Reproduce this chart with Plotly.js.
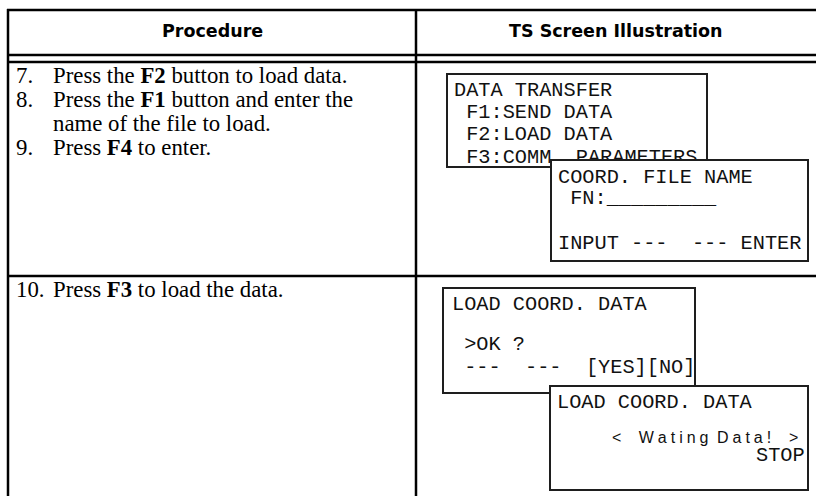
<!DOCTYPE html>
<html>
<head>
<meta charset="utf-8">
<script src="https://cdn.plot.ly/plotly-3.0.1.min.js"></script>
<style>html,body{margin:0;padding:0;background:#fff;}#chart{width:816px;height:496px;}</style>
</head>
<body>
<div id="chart"></div>
<script>
// ---- content (text of the table) ----
const headers = ["Procedure", "TS Screen Illustration"];
const stepNumbers = ["7.", "8.", "9.", "10."];
const stepLines = [
  ["Press the <b>F2</b> button to load data."],
  ["Press the <b>F1</b> button and enter the", "name of the file to load."],
  ["Press <b>F4</b> to enter."],
  ["Press <b>F3</b> to load the data."]
];
const screenTransfer = ["DATA TRANSFER", " F1:SEND DATA", " F2:LOAD DATA", " F3:COMM. PARAMETERS"];
const screenFileName = ["COORD. FILE NAME", " FN:_________", "INPUT ---  --- ENTER"];
const screenConfirm  = ["LOAD COORD. DATA", " >OK ?", " ---  ---  [YES][NO]"];
const screenWaiting  = ["LOAD COORD. DATA", "< Wating Data! >", "STOP"];

// ---- layout geometry ----
const W = 816, H = 496;
const nb = s => s.replace(/ /g, "\u00A0");
// letter-spaced rendering of the "Wating Data!" LCD line
const spaced = s => {
  const words = s.split(" ").filter(w => w.length).map(w => w.split("").join("\u2005"));
  return words.reduce((acc, w, i, a) => {
    if (i === 0) return w;
    let gap = "\u00A0\u2005";
    if (i === 1) gap = "\u00A0\u00A0\u00A0\u2005";
    if (i === a.length - 1) gap = "\u00A0\u00A0\u00A0\u00A0";
    return acc + gap + w;
  }, "");
};

const ink = "#000";
const boxInk = "#1e1e1e";
const mono = "Liberation Mono, Courier New, monospace";
const serif = "Liberation Serif, Times New Roman, serif";
const sans = "DejaVu Sans, Arial, sans-serif";

const shapes = [];
function hline(y, x0, x1, w) { shapes.push({type:"line", xref:"x", yref:"y", x0:x0, x1:x1, y0:y, y1:y, line:{color:ink, width:w}, layer:"below"}); }
function vline(x, y0, y1, w) { shapes.push({type:"line", xref:"x", yref:"y", x0:x, x1:x, y0:y0, y1:y1, line:{color:ink, width:w}, layer:"below"}); }
hline(10, 7, W, 2.5);
hline(55, 7, W, 2.5);
hline(62, 7, W, 2.5);
hline(276, 7, W, 2.5);
vline(8, 9, H, 2.5);
vline(416, 9, H, 2.5);

function box(x0, y0, x1, y1, layer) {
  shapes.push({type:"rect", xref:"x", yref:"y", x0:x0, x1:x1, y0:y0, y1:y1,
    line:{color:boxInk, width:2}, fillcolor: layer === "above" ? "#fff" : "rgba(0,0,0,0)", layer:layer});
}
box(447, 74, 707, 167, "below");
box(443, 288, 695, 393, "below");
box(551, 160, 808, 261, "above");
box(550, 386, 808, 490, "above");

const annotations = [];
// headers
const headerX = [212, 616];
headers.forEach((h, i) => annotations.push({x:headerX[i], y:31, xref:"x", yref:"y", text:"<b>"+h+"</b>",
  showarrow:false, xanchor:"center", yanchor:"middle", font:{family:sans, size:17.5, color:ink}}));

// procedure steps
const stepY = [[75], [99, 123], [147], [289]];
const stepSize = 22.8;
stepNumbers.forEach((n, i) => {
  annotations.push({x:14, y:stepY[i][0], xref:"x", yref:"y", text:n, showarrow:false, xanchor:"left", yanchor:"middle",
    font:{family:serif, size:stepSize, color:ink}});
  stepLines[i].forEach((t, j) => annotations.push({x:51, y:stepY[i][j], xref:"x", yref:"y", text:t, showarrow:false,
    xanchor:"left", yanchor:"middle", font:{family:serif, size:stepSize, color:ink}}));
});

// screens that sit on top (annotations, above their white boxes)
const fileNameY = [177, 198, 243];
screenFileName.forEach((t, i) => annotations.push({x:556, y:fileNameY[i], xref:"x", yref:"y", text:nb(t), showarrow:false,
  xanchor:"left", yanchor:"middle", font:{family:mono, size:20.3, color:"#111"}}));
annotations.push({x:555, y:402, xref:"x", yref:"y", text:nb(screenWaiting[0]), showarrow:false, xanchor:"left", yanchor:"middle",
  font:{family:mono, size:20.3, color:"#111"}});
annotations.push({x:610, y:437, xref:"x", yref:"y", text:spaced(screenWaiting[1]), showarrow:false, xanchor:"left", yanchor:"middle",
  font:{family:"Liberation Sans, Arial, sans-serif", size:16, color:"#111"}});
annotations.push({x:807, y:455, xref:"x", yref:"y", text:nb(screenWaiting[2]), showarrow:false, xanchor:"right", yanchor:"middle",
  font:{family:mono, size:20.3, color:"#111"}});

// screens underneath (traces, so the overlapping boxes cover them)
const transferY = [91, 113, 135, 158];
const confirmY = [305, 345, 368];
const traces = [
  {type:"scatter", mode:"text", x:screenTransfer.map(() => 454), y:transferY, text:screenTransfer.map(nb),
   textposition:"middle right", textfont:{family:mono, size:20.3, color:"#111"}, hoverinfo:"skip", showlegend:false},
  {type:"scatter", mode:"text", x:screenConfirm.map(() => 452), y:confirmY, text:screenConfirm.map(nb),
   textposition:"middle right", textfont:{family:mono, size:20.3, color:"#111"}, hoverinfo:"skip", showlegend:false}
];

const layout = {
  width:W, height:H, margin:{l:0, r:0, t:0, b:0}, paper_bgcolor:"#fff", plot_bgcolor:"#fff", showlegend:false,
  xaxis:{range:[0, W], visible:false, fixedrange:true},
  yaxis:{range:[H, 0], visible:false, fixedrange:true},
  shapes:shapes, annotations:annotations
};
Plotly.newPlot("chart", traces, layout, {displayModeBar:false, staticPlot:true});
</script>
</body>
</html>
